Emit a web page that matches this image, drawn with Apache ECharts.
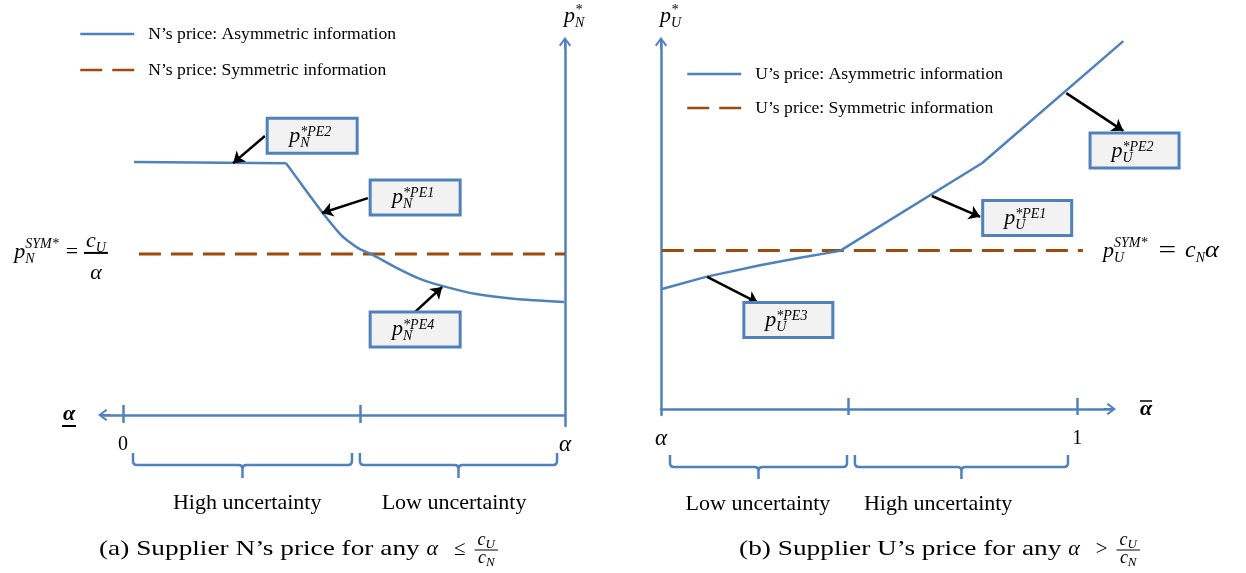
<!DOCTYPE html>
<html><head><meta charset="utf-8">
<script src="https://cdn.jsdelivr.net/npm/echarts@6/dist/echarts.min.js"></script>
<style>html,body{margin:0;padding:0;background:#fff}#c{width:1246px;height:573px}</style>
</head><body><div id="c"></div>
<script>
// ---------------- data ----------------
// Panel (a): x = position between 0 and alpha (0..1), y = price (arbitrary units)
const leftAsymFlat  = [[0.025,6.80],[0.369,6.77]];
const leftAsymCurve = [[0.369,6.77],[0.405,6.18],[0.452,5.43],[0.493,4.84],[0.509,4.68],[0.536,4.46],[0.561,4.33],[0.620,3.95],[0.672,3.66],[0.722,3.47],[0.799,3.25],[0.889,3.12],[0.998,3.04]];
const leftSym       = [[0.036,4.33],[1.0,4.33]];
const leftBoxX      = [0.428,0.661,0.661];
const leftBoxY      = [7.51,5.85,2.30];
const leftBoxTags   = ['*PE2','*PE1','*PE4'];
const leftArrows    = [[[0.321,7.50],[0.249,6.77]],[[0.554,5.83],[0.450,5.43]],[[0.661,2.77],[0.722,3.44]]];
const leftTicks     = [0,0.536];
const leftBraces    = [[0.0226,0.518,0.281],[0.536,0.982,0.749]];
const leftBraceLabels = ['High uncertainty','Low uncertainty'];
const leftLegend    = ['N\u2019s price: Asymmetric information','N\u2019s price: Symmetric information'];
// Panel (b): x = position between alpha and 1 (0..1), y = price
const rightAsym     = [[0.0024,3.28],[0.108,3.61],[0.238,3.93],[0.334,4.13],[0.430,4.32],[0.772,6.72],[1.111,10.05]];
const rightSym      = [[0.002,4.33],[1.014,4.33]];
const rightBoxX     = [1.138,0.880,0.306];
const rightBoxY     = [7.06,5.22,2.43];
const rightBoxTags  = ['*PE2','*PE1','*PE3'];
const rightArrows   = [[[0.974,8.63],[1.111,7.60]],[[0.651,5.82],[0.767,5.25]],[[0.111,3.61],[0.233,2.90]]];
const rightTicks    = [0.4495,1];
const rightBraces   = [[0.0216,0.447,0.233],[0.466,0.978,0.666]];
const rightBraceLabels = ['Low uncertainty','High uncertainty'];
const rightLegend   = ['U\u2019s price: Asymmetric information','U\u2019s price: Symmetric information'];

// ---------------- style / layout ----------------
const BLUE='#4f81bd', BROWN='#9a4b0d', SERIF='Liberation Serif';
const ARROW='path://M6,0 L12,8 L10.6,9.4 L7,4.6 L7,12 L5,12 L5,4.6 L1.4,9.4 L0,8 Z';
const axLine = {color:BLUE,width:2.5};
// panel (a) grid
const L = {left:104, top:43, width:461, height:383, xmin:-0.043, xmax:1, ymin:-0.296, ymax:10};
// panel (b) grid
const R = {left:661, top:43, width:449, height:372, xmin:0, xmax:1.079, ymin:-0.164, ymax:10};
const Ly0 = L.top + L.height*L.ymax/(L.ymax-L.ymin);       // pixel y of value 0
const Ry0 = R.top + R.height*R.ymax/(R.ymax-R.ymin);
// helper grid for panel (b) with the same scale but more room (so the rising line is not clipped)
const rpx = R.width/(R.xmax-R.xmin), rpy = R.height/(R.ymax-R.ymin);
const R2 = {xmin:0, xmax:1.16, ymin:R.ymin, ymax:10.6};
R2.left=R.left; R2.width=(R2.xmax-R2.xmin)*rpx; R2.height=(R2.ymax-R2.ymin)*rpy; R2.top=Ry0-R2.ymax*rpy;

function braceRender(labels, offs){
  return function(params, api){
    const pa=api.coord([api.value(0),0]), pb=api.coord([api.value(1),0]), pl=api.coord([api.value(2),0]);
    const y0=pa[1], top=y0+offs[0], mid=y0+offs[1], tip=y0+offs[2], r=4;
    const a=pa[0], b=pb[0], m=(a+b)/2;
    const d='M'+a+','+top+'L'+a+','+(mid-r)+'Q'+a+','+mid+' '+(a+r)+','+mid+'L'+(m-r)+','+mid+'Q'+m+','+mid+' '+m+','+(mid+r)+'L'+m+','+tip+
            'M'+m+','+(mid+r)+'Q'+m+','+mid+' '+(m+r)+','+mid+'L'+(b-r)+','+mid+'Q'+b+','+mid+' '+b+','+(mid-r)+'L'+b+','+top;
    return {type:'group',children:[
      {type:'path',shape:{pathData:d},style:{stroke:BLUE,lineWidth:2.5,fill:'none'}},
      {type:'text',x:pl[0],y:tip+25,style:{text:labels[params.dataIndex],font:'22px "'+SERIF+'"',fill:'#000',align:'center',textAlign:'center',verticalAlign:'middle',textVerticalAlign:'middle'}}
    ]};
  };
}
function boxRender(w,h){
  return function(params, api){
    const c=api.coord([api.value(0),api.value(1)]);
    return {type:'rect',shape:{x:c[0]-w/2,y:c[1]-h/2,width:w,height:h},style:{fill:'#f2f2f2',stroke:BLUE,lineWidth:3}};
  };
}

const lineCommon = {type:'line',symbol:'none',showSymbol:false,clip:false,silent:true};
const legendCommon = {orient:'vertical',itemWidth:54,itemHeight:14,selectedMode:false,padding:0,
  itemStyle:{opacity:0},lineStyle:{width:2.5},textStyle:{fontFamily:SERIF,fontSize:17.6,color:'#000',lineHeight:18,padding:[0,0,0,9]}};
const hiddenAxis = {type:'value',show:false,splitLine:{show:false}};
const option = {
  animation:false,
  legend:[
    Object.assign({data:leftLegend,left:79,top:25,itemGap:18},legendCommon),
    Object.assign({data:rightLegend,left:686,top:65,itemGap:16},legendCommon)
  ],
  grid:[
    {left:L.left,top:L.top,width:L.width,height:L.height},
    {left:R.left,top:R.top,width:R.width,height:R.height},
    {left:R2.left,top:R2.top,width:R2.width,height:R2.height}
  ],
  xAxis:[
    {gridIndex:0,type:'value',min:L.xmin,max:L.xmax,position:'bottom',
     axisLine:{onZero:true,symbol:[ARROW,'none'],symbolSize:[12,12],lineStyle:axLine},
     axisTick:{show:true,customValues:leftTicks,length:8,lineStyle:axLine},
     axisLabel:{show:true,customValues:[0,1],margin:9,color:'#000',fontFamily:SERIF,fontSize:20,lineHeight:20,
       formatter:v=>v<0.5?'0':'{a|\u03b1}',rich:{a:{fontFamily:SERIF,fontStyle:'italic',fontSize:23,lineHeight:20,color:'#000'}}},
     splitLine:{show:false}},
    {gridIndex:0,type:'value',min:L.xmin,max:L.xmax,position:'top',offset:-(Ly0-L.top),
     axisLine:{show:false,onZero:false},
     axisTick:{show:true,customValues:leftTicks,length:10,lineStyle:axLine},
     axisLabel:{show:false},splitLine:{show:false}},
    {gridIndex:1,type:'value',min:R.xmin,max:R.xmax,position:'bottom',
     axisLine:{onZero:true,symbol:['none',ARROW],symbolSize:[12,12],lineStyle:axLine},
     axisTick:{show:true,customValues:rightTicks,length:6,lineStyle:axLine},
     axisLabel:{show:true,customValues:[0,1],margin:14,color:'#000',fontFamily:SERIF,fontSize:20,lineHeight:20,
       formatter:v=>v<0.5?'{a|\u03b1}':'1',rich:{a:{fontFamily:SERIF,fontStyle:'italic',fontSize:23,lineHeight:20,color:'#000'}}},
     splitLine:{show:false}},
    {gridIndex:1,type:'value',min:R.xmin,max:R.xmax,position:'top',offset:-(Ry0-R.top),
     axisLine:{show:false,onZero:false},
     axisTick:{show:true,customValues:rightTicks,length:11,lineStyle:axLine},
     axisLabel:{show:false},splitLine:{show:false}},
    Object.assign({gridIndex:2,min:R2.xmin,max:R2.xmax},hiddenAxis)
  ],
  yAxis:[
    {gridIndex:0,type:'value',min:L.ymin,max:L.ymax,position:'right',
     axisLine:{show:true,onZero:false,symbol:['none',ARROW],symbolSize:[12,12],lineStyle:axLine},
     axisTick:{show:false},axisLabel:{show:false},splitLine:{show:false}},
    {gridIndex:1,type:'value',min:R.ymin,max:R.ymax,position:'left',
     axisLine:{show:true,onZero:false,symbol:['none',ARROW],symbolSize:[12,12],lineStyle:axLine},
     axisTick:{show:false},axisLabel:{show:false},splitLine:{show:false}},
    Object.assign({gridIndex:2,min:R2.ymin,max:R2.ymax},hiddenAxis)
  ],
  series:[
    Object.assign({},lineCommon,{name:leftLegend[1],xAxisIndex:0,yAxisIndex:0,data:leftSym,lineStyle:{color:BROWN,width:3,type:[22,10]},itemStyle:{color:BROWN},z:3}),
    Object.assign({},lineCommon,{name:leftLegend[0],xAxisIndex:0,yAxisIndex:0,data:leftAsymFlat,lineStyle:{color:BLUE,width:2.5},itemStyle:{color:BLUE},z:4}),
    Object.assign({},lineCommon,{name:leftLegend[0],xAxisIndex:0,yAxisIndex:0,data:leftAsymCurve,smooth:0.2,lineStyle:{color:BLUE,width:2.5,join:'round'},itemStyle:{color:BLUE},z:4}),
    Object.assign({},lineCommon,{name:rightLegend[1],xAxisIndex:2,yAxisIndex:1,data:rightSym,lineStyle:{color:BROWN,width:3,type:[22,10]},itemStyle:{color:BROWN},z:3}),
    Object.assign({},lineCommon,{name:rightLegend[0],xAxisIndex:4,yAxisIndex:2,data:rightAsym,lineStyle:{color:BLUE,width:2.5},itemStyle:{color:BLUE},z:4}),
    {type:'lines',coordinateSystem:'cartesian2d',xAxisIndex:0,yAxisIndex:0,clip:false,silent:true,symbol:['none','arrow'],symbolSize:11,
     lineStyle:{color:'#000',width:2.5,opacity:1,curveness:0},data:leftArrows.map(c=>({coords:c})),z:5},
    {type:'lines',coordinateSystem:'cartesian2d',xAxisIndex:2,yAxisIndex:1,clip:false,silent:true,symbol:['none','arrow'],symbolSize:11,
     lineStyle:{color:'#000',width:2.5,opacity:1,curveness:0},data:rightArrows.map(c=>({coords:c})),z:5},
    {type:'custom',xAxisIndex:0,yAxisIndex:0,silent:true,renderItem:boxRender(90,35),data:leftBoxX.map((x,i)=>[x,leftBoxY[i]]),z:6},
    {type:'custom',xAxisIndex:2,yAxisIndex:1,silent:true,renderItem:boxRender(89,35),data:rightBoxX.map((x,i)=>[x,rightBoxY[i]]),z:6},
    {type:'custom',xAxisIndex:0,yAxisIndex:0,silent:true,renderItem:braceRender(leftBraceLabels,[38,50,63]),data:leftBraces,z:6},
    {type:'custom',xAxisIndex:2,yAxisIndex:1,silent:true,renderItem:braceRender(rightBraceLabels,[46,58,70]),data:rightBraces,z:6}
  ]
};

const chart = echarts.init(document.getElementById('c'),null,{renderer:'canvas'});
chart.setOption(option);

// ---------------- math text (sub/superscripts, fractions) ----------------
const mc=document.createElement('canvas').getContext('2d');
function fnt(s,it,b){return (it?'italic ':'')+(b?'bold ':'')+s+'px "'+SERIF+'"';}
function tw(t,f){mc.font=f;return mc.measureText(t).width;}
function midOff(f,s){mc.font=f;mc.textBaseline='alphabetic';const a=mc.measureText('x').fontBoundingBoxAscent;
  mc.textBaseline='middle';const b=mc.measureText('x').fontBoundingBoxAscent;mc.textBaseline='alphabetic';
  return (typeof a==='number'&&typeof b==='number')?a-b:0.3*s;}
function lay(tokens){
  const els=[];let x=0;
  tokens.forEach(k=>{
    if(k.gap!==undefined){x+=k.gap;return;}
    if(k.t!==undefined){const f=fnt(k.s,k.i,k.b);const sx=k.sx||1;els.push({t:k.t,f,s:k.s,x,dy:k.dy||0,sx});x+=tw(k.t,f)*sx;return;}
    if(k.frac){const n=lay(k.frac[0]),d=lay(k.frac[1]);const pad=k.pad||2;const w=Math.max(n.w,d.w)+2*pad;
      n.els.forEach(e=>els.push(Object.assign({},e,{x:x+(w-n.w)/2+e.x,dy:e.dy-k.nUp})));
      d.els.forEach(e=>els.push(Object.assign({},e,{x:x+(w-d.w)/2+e.x,dy:e.dy+k.dDown})));
      els.push({bar:true,x,w,dy:-k.bar,lw:k.lw||1.5});x+=w;return;}
    let w=0;const f=fnt(k.ss,true);
    if(k.sup){els.push({t:k.sup,f,s:k.ss,x,dy:-(k.up||0),sx:1});w=Math.max(w,tw(k.sup,f));}
    if(k.sub){els.push({t:k.sub,f,s:k.ss,x,dy:k.down||0,sx:1});w=Math.max(w,tw(k.sub,f));}
    x+=w;
  });
  return {els,w:x};
}
function mathEls(tokens,ax,by,align){
  const Ly=lay(tokens);const x0=align==='center'?ax-Ly.w/2:align==='right'?ax-Ly.w:ax;
  return Ly.els.map(e=>e.bar?{type:'line',z:100,shape:{x1:x0+e.x,y1:by+e.dy,x2:x0+e.x+e.w,y2:by+e.dy},style:{stroke:'#000',lineWidth:e.lw}}
    :{type:'text',z:100,x:x0+e.x,y:by+e.dy-midOff(e.f,e.s),scaleX:e.sx,style:{text:e.t,font:e.f,fill:'#000',align:'left',textAlign:'left',verticalAlign:'middle',textVerticalAlign:'middle'}});
}
const pxL=p=>chart.convertToPixel({xAxisIndex:0,yAxisIndex:0},p);
const pxR=p=>chart.convertToPixel({xAxisIndex:2,yAxisIndex:1},p);
const P=(sub,sup,up)=>[{t:'p',s:22,i:true},{sub,sup,ss:14,up:up||6,down:5}];
const G=[];
leftBoxX.forEach((x,i)=>{const c=pxL([x,leftBoxY[i]]);G.push(...mathEls(P('N',leftBoxTags[i]),c[0]-2,c[1]+6,'center'));});
rightBoxX.forEach((x,i)=>{const c=pxR([x,rightBoxY[i]]);G.push(...mathEls(P('U',rightBoxTags[i]),c[0]-2,c[1]+6,'center'));});
// y-axis names
const tL=pxL([L.xmax,L.ymax]);G.push(...mathEls(P('N','*',8),tL[0]-1,tL[1]-21,'left'));
const tR=pxR([R.xmin,R.ymax]);G.push(...mathEls(P('U','*',8),tR[0]-1,tR[1]-21,'left'));
// symmetric price labels
const sL=pxL(leftSym[0]);
G.push(...mathEls(P('N','SYM*',10).concat([{gap:7},{t:'=',s:22},{gap:6},
  {frac:[[{t:'c',s:22,i:true},{sub:'U',ss:14,down:5}],[{t:'\u03b1',s:22,i:true}]],nUp:11,dDown:21,bar:5,pad:2,lw:2}]),sL[0]-31,sL[1]+4,'right'));
const sR=pxR(rightSym[1]);
G.push(...mathEls(P('U','SYM*',10).concat([{gap:11},{t:'=',s:24,sx:1.3},{gap:9},{t:'c',s:24,i:true},{sub:'N',ss:14,down:5},{t:'\u03b1',s:24,i:true,sx:1.1}]),sR[0]+20,sR[1]+6,'left'));
// x-axis names
const aL=pxL([L.xmin,0]);
G.push(...mathEls([{t:'\u03b1',s:22,i:true,b:true}],aL[0]-35,aL[1]+5,'center'));
G.push({type:'line',z:100,shape:{x1:aL[0]-42,y1:aL[1]+11,x2:aL[0]-28,y2:aL[1]+11},style:{stroke:'#000',lineWidth:2}});
const aR=pxR([R.xmax,0]);
G.push(...mathEls([{t:'\u03b1',s:22,i:true,b:true}],aR[0]+36,aR[1]+6,'center'));
G.push({type:'line',z:100,shape:{x1:aR[0]+30,y1:aR[1]-8,x2:aR[0]+42,y2:aR[1]-8},style:{stroke:'#000',lineWidth:1.5}});
// captions
const capFrac={frac:[[{t:'c',s:18,i:true},{sub:'U',ss:13,down:3}],[{t:'c',s:18,i:true},{sub:'N',ss:13,down:3}]],nUp:10,dDown:8,bar:5,pad:3,lw:1};
G.push(...mathEls([{t:'(a) Supplier N\u2019s price for any ',s:21,sx:1.3},{t:'\u03b1',s:22,i:true},{gap:16},{t:'\u2264',s:21},{gap:9},capFrac],298.5,555,'center'));
G.push(...mathEls([{t:'(b) Supplier U\u2019s price for any ',s:21,sx:1.3},{t:'\u03b1',s:22,i:true},{gap:16},{t:'>',s:21},{gap:9},capFrac],939.5,555,'center'));
chart.setOption({graphic:{elements:G}});
</script></body></html>
